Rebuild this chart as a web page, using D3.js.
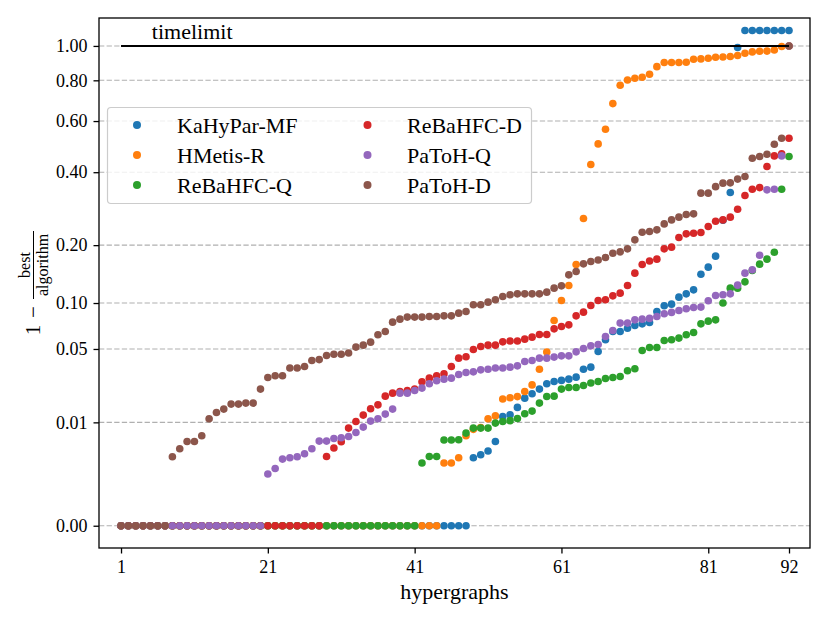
<!DOCTYPE html>
<html><head><meta charset="utf-8">
<script src="https://cdn.jsdelivr.net/npm/d3@7"></script>
<style>
body{margin:0;background:#fff}
svg text{font-family:"Liberation Serif","Times New Roman",serif;fill:#000}
</style>
</head><body>
<svg id="chart" width="830" height="623"></svg>
<script>
// ---------------- data ----------------
const TL = "TL";           // marker for "timelimit" entries
const timelimitValue = 1.1; // where timelimit entries are drawn
const xTickValues = [1, 21, 41, 61, 81, 92];
const yTickValues = [0, 0.01, 0.05, 0.10, 0.20, 0.40, 0.60, 0.80, 1.00];
const seriesNames = ["KaHyPar-MF", "HMetis-R", "ReBaHFC-Q", "ReBaHFC-D", "PaToH-Q", "PaToH-D"];
const seriesColors = ["#1f77b4", "#ff7f0e", "#2ca02c", "#d62728", "#9467bd", "#8c564b"];

const kahyparMF = [
  0,0,0,0,0,0,0,0,0,0, 0,0,0,0,0,0,0,0,0,0, 0,0,0,0,0,0,0,0,0,0, 0,0,0,0,0,0,0,0,0,0,
  0,0,0,0,0,0,0,0,
  .00284,.00324,.00377,.00542,.0118,.0124,.0150,.0188,.0208,.0231,
  .0259,.0272,.0278,.0285,.0297,.0347,.0361,.0479,.0582,.0664,
  .0664,.0698,.0727,.0745,.076,.089,.0963,.0985,.1081,.1129,
  .1188,.1441,.1565,.1774,.258,.335,.99,
  TL,TL,TL,TL,TL,TL,TL];
const hmetisR = [
  0,0,0,0,0,0,0,0,0,0, 0,0,0,0,0,0,0,0,0,0, 0,0,0,0,0,0,0,0,0,0, 0,0,0,0,0,0,0,0,0,0,
  0,0,0,0,
  .00223,.00223,.00284,.00659,.0081,.0086,.0111,.0120,.0184,.0190,
  .0195,.0219,.0253,.0347,.0474,.0782,.1034,.1255,.1614,.2625,
  .4266,.504,.5644,.681,.774,.802,.811,.8167,.8333,.876,
  .8995,.8995,.8995,.9015,.919,.921,.925,.931,.932,.935,
  .941,.955,.963,.967,.968,.975,.996,1.0];
const rebaQ = [
  0,0,0,0,0,0,0,0,0,0, 0,0,0,0,0,0,0,0,0,0, 0,0,0,0,0,0,0,0,0,0, 0,0,0,0,0,0,0,0,0,0,
  0,
  .00223,.00301,.00301,.00569,.00569,.00575,.0072,.00843,.00843,.00843,
  .00979,.01027,.0105,.01117,.0127,.01364,.0167,.01955,.0197,.0231,
  .0239,.0239,.0250,.0263,.0272,.0289,.0295,.0301,.0337,.0350,
  .0487,.0513,.0513,.0575,.0582,.0598,.063,.0653,.0745,.0775,
  .079,.1,.1214,.1214,.1313,.1505,.162,.1715,.1853,.345,
  .4555];
const rebaD = [
  0,0,0,0,0,0,0,0,0,0, 0,0,0,0,0,0,0,0,0,0, 0,0,0,0,0,0,0,0,
  .00301,.00424,.00536,.00843,.01027,.01226,.01448,.0160,.0197,.0211,
  .0219,.0224,.0231,.027,.0291,.0305,.0318,.0366,.0426,.0437,
  .0495,.0521,.0533,.0533,.0563,.0571,.0571,.0588,.0607,.0633,
  .0633,.0691,.0716,.0734,.0837,.0882,.0967,.1034,.1044,.110,
  .1139,.1255,.1459,.1614,.168,.1715,.1922,.1957,.2167,.2251,
  .2266,.2281,.2425,.2557,.259,.266,.2871,.326,.345,.350,
  .4195,.458,.4655,.527];
const patohQ = [
  0,0,0,0,0,0,0,0,0,0, 0,0,0,0,0,0,0,0,0,0,
  .00125,.0017,.00268,.00284,.00297,.003375,.00413,.00549,.00549,.00602,
  .00616,.00644,.00735,.00869,.01037,.01108,.0126,.01437,.0211,.0211,
  .0224,.0236,.0259,.0276,.0285,.0291,.0313,.0326,.033,.0343,
  .0347,.0355,.0355,.0361,.0370,.0401,.0408,.0426,.0426,.0434,
  .0444,.0444,.0476,.0504,.0527,.0539,.0613,.0674,.0753,.0753,
  .079,.0798,.0807,.0829,.0863,.0879,.0903,.0924,.0941,.0946,
  .103,.1105,.1115,.1129,.1261,.1459,.1517,.1793,.343,.345,
  .458,1.0];
const patohD = [
  0,0,0,0,0,0,0,
  .00297,.00413,.00542,.00542,.00659,.01108,.01315,.01437,.0163,.0163,
  .0167,.0167,.0231,.0295,.0305,.0305,.0355,.0355,.0366,.0408,
  .0415,.0447,.0457,.0457,.0466,.0516,.0533,.0560,.0630,.0664,
  .0764,.0798,.0822,.0822,.0822,.0829,.0829,.0837,.0837,.087,
  .0890,.0976,.0976,.1012,.1044,.1091,.1115,.1129,.1129,.1129,
  .1129,.1154,.1214,.125,.143,.1488,.1626,.167,.170,.1747,
  .1833,.186,.1922,.2115,.229,.2307,.2345,.249,.259,.266,
  .2728,.2746,.333,.333,.353,.364,.365,.377,.3855,.4495,
  .4555,.4643,.5027,.5268,1.0];

const seriesValues = [kahyparMF, hmetisR, rebaQ, rebaD, patohQ, patohD];

// ---------------- chart ----------------
const svg = d3.select("#chart");
const plot = {left: 99, right: 810, top: 18, bottom: 548};

const x = d3.scaleLinear().domain([-2, 94.86]).range([plot.left, plot.right]);
const y = d3.scalePow().exponent(1/3).domain([-0.0001, 1.185]).range([plot.bottom, plot.top]);

const val = v => v === TL ? timelimitValue : v;

// gridlines
svg.append("g").selectAll("line").data(yTickValues).join("line")
  .attr("x1", plot.left).attr("x2", plot.right)
  .attr("y1", d => y(d)).attr("y2", d => y(d))
  .attr("stroke", "#b0b0b0").attr("stroke-width", 1.1)
  .attr("stroke-dasharray", "5.3,2.3");

// points
seriesValues.forEach((arr, si) => {
  svg.append("g").selectAll("circle").data(arr).join("circle")
    .attr("cx", (d, i) => x(i + 1))
    .attr("cy", d => y(val(d)))
    .attr("r", 3.8)
    .attr("fill", seriesColors[si]);
});

// timelimit line + label
svg.append("line")
  .attr("x1", x(1)).attr("x2", x(92))
  .attr("y1", y(1)).attr("y2", y(1))
  .attr("stroke", "#000").attr("stroke-width", 2);
svg.append("text").attr("x", x(5.2)).attr("y", y(timelimitValue) + 9)
  .style("font-size", "22px").text("timelimit");

// axes
const yAxis = d3.axisLeft(y).tickValues(yTickValues).tickFormat(d3.format(".2f"))
  .tickSize(5.5).tickPadding(6);
const gy = svg.append("g").attr("transform", `translate(${plot.left},0)`).call(yAxis);
const xAxis = d3.axisBottom(x).tickValues(xTickValues).tickFormat(d3.format("d"))
  .tickSize(5.5).tickPadding(6.5);
const gx = svg.append("g").attr("transform", `translate(0,${plot.bottom})`).call(xAxis);
[gx, gy].forEach(g => {
  g.select(".domain").remove();
  g.selectAll(".tick line").attr("stroke", "#000").attr("stroke-width", 1.3);
  g.selectAll(".tick text").style("font-size", "18px")
    .style("font-family", '"Liberation Serif", serif').attr("fill", "#000");
});

// frame
svg.append("rect").attr("x", plot.left).attr("y", plot.top)
  .attr("width", plot.right - plot.left).attr("height", plot.bottom - plot.top)
  .attr("fill", "none").attr("stroke", "#000").attr("stroke-width", 1.3);

// x label
svg.append("text").attr("x", (plot.left + plot.right) / 2).attr("y", 599)
  .attr("text-anchor", "middle").style("font-size", "22px").text("hypergraphs");

// y label: 1 − best/algorithm (rotated)
const yl = svg.append("g").attr("transform", "rotate(-90)");
yl.append("text").attr("x", -330).attr("y", 40).attr("text-anchor", "middle")
  .style("font-size", "21px").text("1");
yl.append("text").attr("x", -312).attr("y", 40).attr("text-anchor", "middle")
  .style("font-size", "21px").text("\u2212");
yl.append("line").attr("x1", -299).attr("x2", -231).attr("y1", 33.5).attr("y2", 33.5)
  .attr("stroke", "#000").attr("stroke-width", 1);
yl.append("text").attr("x", -265).attr("y", 29.5).attr("text-anchor", "middle")
  .style("font-size", "16px").text("best");
yl.append("text").attr("x", -265).attr("y", 47.5).attr("text-anchor", "middle")
  .style("font-size", "16px").text("algorithm");

// legend
const lg = svg.append("g");
lg.append("rect").attr("x", 107.5).attr("y", 107.5).attr("width", 424).attr("height", 96)
  .attr("rx", 3.5).attr("fill", "#fff").attr("fill-opacity", 0.8)
  .attr("stroke", "#cccccc").attr("stroke-width", 1.2);
const legCols = [137, 367.5], legTextCols = [177, 407], legRows = [125, 155, 185];
seriesNames.forEach((name, i) => {
  const c = Math.floor(i / 3), r = i % 3;
  lg.append("circle").attr("cx", legCols[c]).attr("cy", legRows[r]).attr("r", 4)
    .attr("fill", seriesColors[i]);
  lg.append("text").attr("x", legTextCols[c]).attr("y", legRows[r] + 7.5)
    .style("font-size", "22px").text(name);
});
</script>
</body></html>
